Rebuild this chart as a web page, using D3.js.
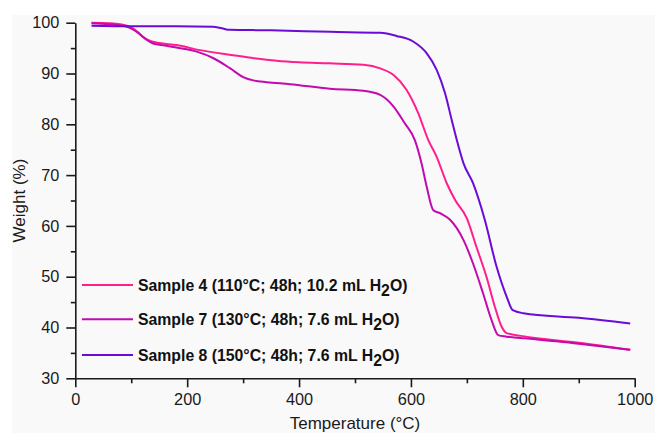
<!DOCTYPE html>
<html>
<head>
<meta charset="utf-8">
<script src="https://cdn.jsdelivr.net/npm/d3@7/dist/d3.min.js"></script>
<style>
  html, body { margin: 0; padding: 0; background: #ffffff; }
  svg { display: block; font-family: "Liberation Sans", Arial, sans-serif; }
</style>
</head>
<body>
<svg id="chart" width="655" height="433"></svg>
<script>
// TGA curves: temperature (°C) vs remaining weight (%)
const sample4Temp = [29, 60, 80, 95, 103, 112, 121, 130, 137, 150, 181, 223, 282, 320, 360, 400, 455, 515, 545, 569, 592, 613, 631, 646, 664, 679, 700, 717, 735, 750, 762, 771, 800, 900, 992];
const sample4Weight = [100, 99.9, 99.7, 99.3, 98.9, 98.1, 97.2, 96.6, 96.3, 96.0, 95.6, 94.6, 93.6, 93.0, 92.5, 92.2, 92.0, 91.7, 91.0, 89.7, 86.8, 82.2, 76.9, 73.6, 68.4, 65.1, 61.5, 55.9, 50.0, 44.1, 40.2, 38.9, 38.3, 37.0, 35.6];

const sample7Temp = [29, 60, 92, 101, 110, 119, 128, 139, 160, 181, 217, 247, 277, 300, 320, 342, 384, 455, 515, 545, 569, 589, 607, 619, 628, 640, 652, 670, 694, 711, 729, 744, 756, 771, 800, 900, 992];
const sample7Weight = [99.9, 99.7, 99.2, 98.8, 98.2, 97.4, 96.6, 95.9, 95.5, 95.1, 94.3, 93.0, 91.0, 89.3, 88.6, 88.3, 87.9, 87.0, 86.6, 85.8, 83.5, 80.2, 76.9, 72.3, 67.8, 63.1, 62.5, 61.2, 57.2, 52.6, 46.7, 41.5, 38.5, 38.2, 37.9, 36.8, 35.6];

const sample8Temp = [29, 100, 180, 246, 262, 276, 350, 456, 545, 574, 604, 628, 646, 661, 673, 682, 694, 711, 732, 753, 771, 782, 801, 900, 992];
const sample8Weight = [99.4, 99.3, 99.3, 99.2, 98.9, 98.6, 98.5, 98.2, 98.0, 97.4, 96.3, 94.0, 90.7, 86.1, 80.8, 76.9, 72.3, 68.4, 61.2, 52.0, 46.1, 43.4, 42.8, 41.9, 40.8];

const seriesNames = [
  ["Sample 4 (110°C; 48h; 10.2 mL H", "2", "O)"],
  ["Sample 7 (130°C; 48h; 7.6 mL H", "2", "O)"],
  ["Sample 8 (150°C; 48h; 7.6 mL H", "2", "O)"]
];
const seriesColors = ["#ff1e8c", "#c20aae", "#6a0cd6"];

const xTicks = [0, 200, 400, 600, 800, 1000];
const yTicks = [30, 40, 50, 60, 70, 80, 90, 100];

const series = [
  { temp: sample4Temp, weight: sample4Weight },
  { temp: sample7Temp, weight: sample7Weight },
  { temp: sample8Temp, weight: sample8Weight }
];

const svg = d3.select("#chart");
const W = 655, H = 433;

// plot panel background
svg.append("rect").attr("x", 12).attr("y", 15).attr("width", W - 12).attr("height", H - 15).attr("fill", "#f9f9f9");

const x = d3.scaleLinear().domain([0, 1000]).range([75.3, 634.7]);
const y = d3.scaleLinear().domain([30, 100]).range([378.3, 22.7]);

const axisColor = "#1a1a1a";

// x axis with minor ticks
const gx = svg.append("g").attr("transform", `translate(0,${y(30)})`);
gx.call(d3.axisBottom(x).tickValues(d3.range(100, 1000, 200)).tickSize(5).tickFormat(""));
gx.call(g => g.select(".domain").remove());
const gx2 = svg.append("g").attr("transform", `translate(0,${y(30)})`);
gx2.call(d3.axisBottom(x).tickValues(xTicks).tickSize(9).tickSizeOuter(0).tickPadding(6).tickFormat(d3.format("d")));

// y axis with minor ticks
const gy = svg.append("g").attr("transform", `translate(${x(0)},0)`);
gy.call(d3.axisLeft(y).tickValues(d3.range(35, 100, 10)).tickSize(4.5).tickFormat(""));
gy.call(g => g.select(".domain").remove());
const gy2 = svg.append("g").attr("transform", `translate(${x(0)},0)`);
gy2.call(d3.axisLeft(y).tickValues(yTicks).tickSize(9).tickSizeOuter(0).tickPadding(7).tickFormat(d3.format("d")));

[gx, gx2, gy, gy2].forEach(g => {
  g.selectAll("line").attr("stroke", axisColor).attr("stroke-width", 1.6);
  g.selectAll(".domain").attr("stroke", axisColor).attr("stroke-width", 1.6);
  g.selectAll("text").attr("fill", "#1a1a1a").style("font-size", "16.3px").style("font-family", "'Liberation Sans', Arial, sans-serif");
});

// axis titles
svg.append("text")
  .attr("x", x(500)).attr("y", 428.5)
  .attr("text-anchor", "middle")
  .style("font-size", "17px").attr("fill", "#1a1a1a")
  .text("Temperature (°C)");

svg.append("text")
  .attr("transform", `translate(25,${(y(30) + y(100)) / 2}) rotate(-90)`)
  .attr("text-anchor", "middle")
  .style("font-size", "17px").attr("fill", "#1a1a1a")
  .text("Weight (%)");

// curves
const line = d3.line()
  .x(d => x(d[0]))
  .y(d => y(d[1]))
  .curve(d3.curveMonotoneX);

series.forEach((s, i) => {
  const pts = s.temp.map((t, k) => [t, s.weight[k]]);
  svg.append("path")
    .datum(pts)
    .attr("fill", "none")
    .attr("stroke", seriesColors[i])
    .attr("stroke-width", 2)
    .attr("stroke-linejoin", "round")
    .attr("d", line);
});

// legend
const legendRows = [285, 319.3, 355];
seriesNames.forEach((parts, i) => {
  const ly = legendRows[i];
  svg.append("line")
    .attr("x1", 82).attr("x2", 133)
    .attr("y1", ly).attr("y2", ly)
    .attr("stroke", seriesColors[i]).attr("stroke-width", 2);
  const t = svg.append("text")
    .attr("x", 138).attr("y", ly + 5.5)
    .style("font-size", "15.8px").style("font-weight", "bold").attr("fill", "#111");
  t.append("tspan").text(parts[0]);
  t.append("tspan").attr("dy", 5).text(parts[1]);
  t.append("tspan").attr("dy", -5).text(parts[2]);
});
</script>
</body>
</html>
